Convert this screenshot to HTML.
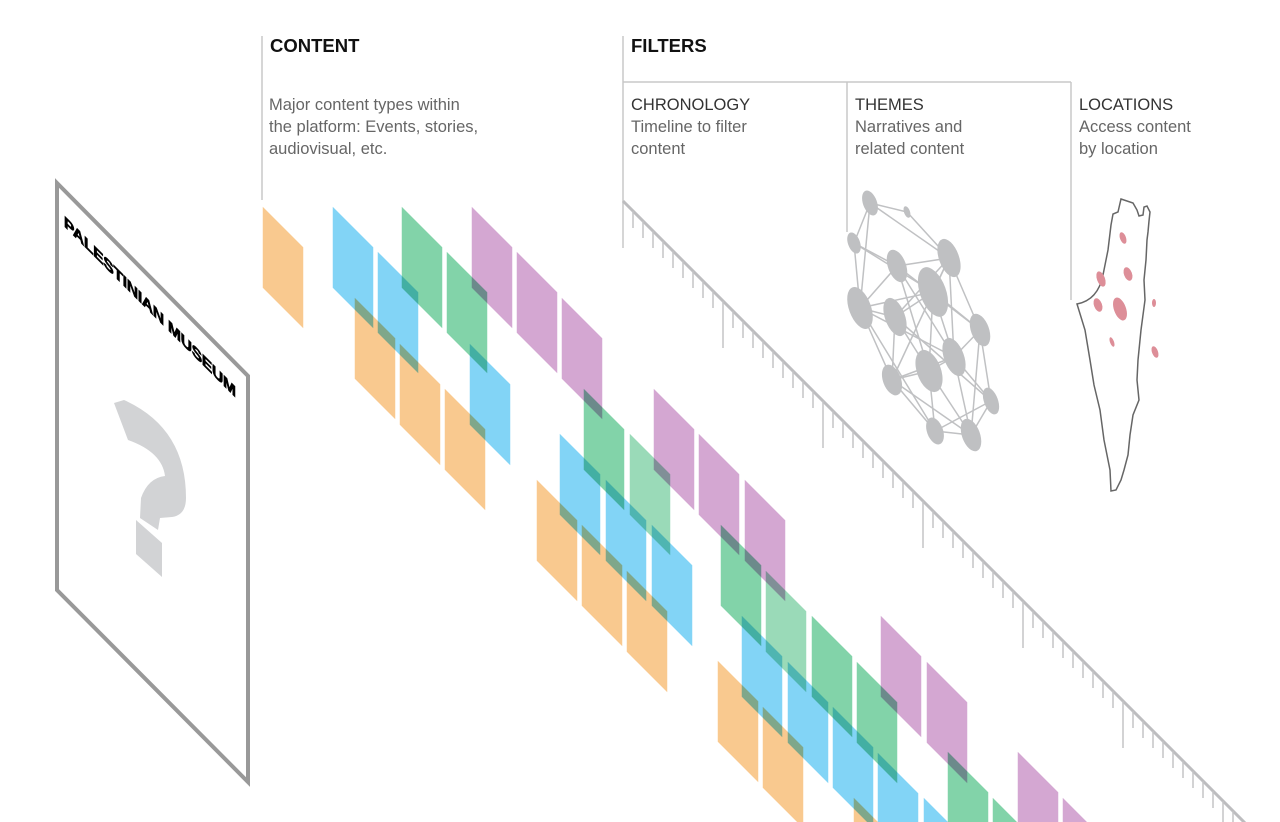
<!DOCTYPE html>
<html><head><meta charset="utf-8"><style>
html,body{margin:0;padding:0;background:#fff;width:1280px;height:822px;overflow:hidden;}
svg{display:block;}
.h{font-family:"Liberation Sans",sans-serif;font-weight:bold;font-size:18.5px;fill:#111;}
.d{font-family:"Liberation Sans",sans-serif;font-size:16.5px;fill:#666;}
.t{font-family:"Liberation Sans",sans-serif;font-size:16.5px;fill:#333;}
.tile{mix-blend-mode:multiply;stroke:#fff;stroke-width:1.5;}
</style></head><body>
<svg width="1280" height="822" viewBox="0 0 1280 822" xmlns="http://www.w3.org/2000/svg">
<defs>
<polygon id="tl" points="0,0 42,42 42,125 0,83"/>
</defs>
<g stroke="#c8c8c8" stroke-width="1.5" fill="none">
<line x1="262" y1="36" x2="262" y2="200"/>
<line x1="623" y1="36" x2="623" y2="248"/>
<line x1="623" y1="82" x2="1071" y2="82"/>
<line x1="847" y1="82" x2="847" y2="232"/>
<line x1="1071" y1="82" x2="1071" y2="300"/>
</g>
<text class="h" x="270" y="52">CONTENT</text>
<text class="h" x="631" y="52">FILTERS</text>
<text class="d" x="269" y="110">Major content types within</text>
<text class="d" x="269" y="132">the platform: Events, stories,</text>
<text class="d" x="269" y="154">audiovisual, etc.</text>
<text class="t" x="631" y="110">CHRONOLOGY</text>
<text class="d" x="631" y="132">Timeline to filter</text>
<text class="d" x="631" y="154">content</text>
<text class="t" x="855" y="110">THEMES</text>
<text class="d" x="855" y="132">Narratives and</text>
<text class="d" x="855" y="154">related content</text>
<text class="t" x="1079" y="110">LOCATIONS</text>
<text class="d" x="1079" y="132">Access content</text>
<text class="d" x="1079" y="154">by location</text>

<polygon points="57,183 248,376 248,782 57,590" fill="none" stroke="#999" stroke-width="4"/>
<g transform="translate(64,226) skewY(45)">
<text x="0" y="0" style="font-family:'Liberation Sans',sans-serif;font-weight:bold;font-size:15.5px;letter-spacing:-0.2px" fill="#000" stroke="#000" stroke-width="0.8">PALESTINIAN MUSEUM</text>
</g>
<path d="M114,403 L124,400 Q186,428 186,498 Q186,515 172,517 L160,518 L158,530 L140,518 L141,498 Q148,478 165,476 Q162,452 128,440 Z" fill="#d2d3d5"/>
<polygon points="136,520 162,543 162,577 136,554" fill="#d2d3d5"/>

<g>
<g fill="#f9c98f">
<use href="#tl" class="tile" x="262" y="205"/>
<use href="#tl" class="tile" x="354" y="296"/><use href="#tl" class="tile" x="399" y="342"/><use href="#tl" class="tile" x="444" y="387"/>
<use href="#tl" class="tile" x="536" y="478"/><use href="#tl" class="tile" x="581" y="523"/><use href="#tl" class="tile" x="626" y="569"/>
<use href="#tl" class="tile" x="717" y="659"/><use href="#tl" class="tile" x="762" y="705"/><use href="#tl" class="tile" x="853" y="796"/>
</g>
<g fill="#82d4f6">
<use href="#tl" class="tile" x="332" y="205"/><use href="#tl" class="tile" x="377" y="250"/>
<use href="#tl" class="tile" x="469" y="342"/>
<use href="#tl" class="tile" x="559" y="432"/><use href="#tl" class="tile" x="605" y="478"/><use href="#tl" class="tile" x="651" y="523"/>
<use href="#tl" class="tile" x="741" y="614"/><use href="#tl" class="tile" x="787" y="660"/><use href="#tl" class="tile" x="832" y="705"/><use href="#tl" class="tile" x="877" y="751"/><use href="#tl" class="tile" x="923" y="796"/>
</g>
<g fill="#82d3a9">
<use href="#tl" class="tile" x="401" y="205"/><use href="#tl" class="tile" x="446" y="250"/>
<use href="#tl" class="tile" x="583" y="387"/>
<use href="#tl" class="tile" x="720" y="523"/><use href="#tl" class="tile" x="811" y="614"/><use href="#tl" class="tile" x="856" y="660"/>
<use href="#tl" class="tile" x="947" y="750"/><use href="#tl" class="tile" x="992" y="796"/>
</g>
<g fill="#9adab8">
<use href="#tl" class="tile" x="629" y="432"/><use href="#tl" class="tile" x="765" y="569"/>
</g>
<g fill="#d4a7d2">
<use href="#tl" class="tile" x="471" y="205"/><use href="#tl" class="tile" x="516" y="250"/><use href="#tl" class="tile" x="561" y="296"/>
<use href="#tl" class="tile" x="653" y="387"/><use href="#tl" class="tile" x="698" y="432"/><use href="#tl" class="tile" x="744" y="478"/>
<use href="#tl" class="tile" x="880" y="614"/><use href="#tl" class="tile" x="926" y="660"/>
<use href="#tl" class="tile" x="1017" y="750"/><use href="#tl" class="tile" x="1062" y="796"/>
</g>
</g>

<line x1="623" y1="201" x2="1246" y2="824" stroke="#bdbdbf" stroke-width="3"/>
<g stroke="#c4c4c6" stroke-width="1.5">
<line x1="633" y1="211" x2="633" y2="228"/><line x1="643" y1="221" x2="643" y2="238"/><line x1="653" y1="231" x2="653" y2="248"/><line x1="663" y1="241" x2="663" y2="258"/><line x1="673" y1="251" x2="673" y2="268"/><line x1="683" y1="261" x2="683" y2="278"/><line x1="693" y1="271" x2="693" y2="288"/><line x1="703" y1="281" x2="703" y2="298"/><line x1="713" y1="291" x2="713" y2="308"/>
<line x1="723" y1="301" x2="723" y2="348"/>
<line x1="733" y1="311" x2="733" y2="328"/><line x1="743" y1="321" x2="743" y2="338"/><line x1="753" y1="331" x2="753" y2="348"/><line x1="763" y1="341" x2="763" y2="358"/><line x1="773" y1="351" x2="773" y2="368"/><line x1="783" y1="361" x2="783" y2="378"/><line x1="793" y1="371" x2="793" y2="388"/><line x1="803" y1="381" x2="803" y2="398"/><line x1="813" y1="391" x2="813" y2="408"/>
<line x1="823" y1="401" x2="823" y2="448"/>
<line x1="833" y1="411" x2="833" y2="428"/><line x1="843" y1="421" x2="843" y2="438"/><line x1="853" y1="431" x2="853" y2="448"/><line x1="863" y1="441" x2="863" y2="458"/><line x1="873" y1="451" x2="873" y2="468"/><line x1="883" y1="461" x2="883" y2="478"/><line x1="893" y1="471" x2="893" y2="488"/><line x1="903" y1="481" x2="903" y2="498"/><line x1="913" y1="491" x2="913" y2="508"/>
<line x1="923" y1="501" x2="923" y2="548"/>
<line x1="933" y1="511" x2="933" y2="528"/><line x1="943" y1="521" x2="943" y2="538"/><line x1="953" y1="531" x2="953" y2="548"/><line x1="963" y1="541" x2="963" y2="558"/><line x1="973" y1="551" x2="973" y2="568"/><line x1="983" y1="561" x2="983" y2="578"/><line x1="993" y1="571" x2="993" y2="588"/><line x1="1003" y1="581" x2="1003" y2="598"/><line x1="1013" y1="591" x2="1013" y2="608"/>
<line x1="1023" y1="601" x2="1023" y2="648"/>
<line x1="1033" y1="611" x2="1033" y2="628"/><line x1="1043" y1="621" x2="1043" y2="638"/><line x1="1053" y1="631" x2="1053" y2="648"/><line x1="1063" y1="641" x2="1063" y2="658"/><line x1="1073" y1="651" x2="1073" y2="668"/><line x1="1083" y1="661" x2="1083" y2="678"/><line x1="1093" y1="671" x2="1093" y2="688"/><line x1="1103" y1="681" x2="1103" y2="698"/><line x1="1113" y1="691" x2="1113" y2="708"/>
<line x1="1123" y1="701" x2="1123" y2="748"/>
<line x1="1133" y1="711" x2="1133" y2="728"/><line x1="1143" y1="721" x2="1143" y2="738"/><line x1="1153" y1="731" x2="1153" y2="748"/><line x1="1163" y1="741" x2="1163" y2="758"/><line x1="1173" y1="751" x2="1173" y2="768"/><line x1="1183" y1="761" x2="1183" y2="778"/><line x1="1193" y1="771" x2="1193" y2="788"/><line x1="1203" y1="781" x2="1203" y2="798"/><line x1="1213" y1="791" x2="1213" y2="808"/>
<line x1="1223" y1="801" x2="1223" y2="822"/><line x1="1233" y1="811" x2="1233" y2="822"/>
</g>

<g stroke="#c0c1c3" stroke-width="1.5">
<line x1="870" y1="203" x2="907" y2="212"/><line x1="870" y1="203" x2="949" y2="258"/><line x1="870" y1="203" x2="854" y2="243"/><line x1="870" y1="203" x2="860" y2="308"/>
<line x1="907" y1="212" x2="949" y2="258"/>
<line x1="854" y1="243" x2="897" y2="266"/><line x1="854" y1="243" x2="933" y2="292"/><line x1="854" y1="243" x2="860" y2="308"/>
<line x1="897" y1="266" x2="949" y2="258"/><line x1="897" y1="266" x2="860" y2="308"/><line x1="897" y1="266" x2="954" y2="357"/><line x1="897" y1="266" x2="929" y2="371"/><line x1="897" y1="266" x2="980" y2="330"/>
<line x1="949" y1="258" x2="933" y2="292"/><line x1="949" y1="258" x2="895" y2="317"/><line x1="949" y1="258" x2="980" y2="330"/><line x1="949" y1="258" x2="954" y2="357"/><line x1="949" y1="258" x2="892" y2="380"/>
<line x1="933" y1="292" x2="895" y2="317"/><line x1="933" y1="292" x2="954" y2="357"/><line x1="933" y1="292" x2="929" y2="371"/><line x1="933" y1="292" x2="860" y2="308"/><line x1="933" y1="292" x2="980" y2="330"/>
<line x1="860" y1="308" x2="895" y2="317"/><line x1="860" y1="308" x2="892" y2="380"/><line x1="860" y1="308" x2="935" y2="431"/><line x1="860" y1="308" x2="954" y2="357"/>
<line x1="895" y1="317" x2="929" y2="371"/><line x1="895" y1="317" x2="892" y2="380"/><line x1="895" y1="317" x2="991" y2="401"/>
<line x1="980" y1="330" x2="954" y2="357"/><line x1="980" y1="330" x2="991" y2="401"/><line x1="980" y1="330" x2="971" y2="435"/>
<line x1="954" y1="357" x2="929" y2="371"/><line x1="954" y1="357" x2="991" y2="401"/><line x1="954" y1="357" x2="971" y2="435"/><line x1="954" y1="357" x2="892" y2="380"/>
<line x1="929" y1="371" x2="892" y2="380"/><line x1="929" y1="371" x2="935" y2="431"/><line x1="929" y1="371" x2="971" y2="435"/>
<line x1="892" y1="380" x2="935" y2="431"/><line x1="892" y1="380" x2="971" y2="435"/>
<line x1="991" y1="401" x2="971" y2="435"/><line x1="935" y1="431" x2="971" y2="435"/><line x1="935" y1="431" x2="991" y2="401"/>
</g>
<g fill="#bfc0c2">
<ellipse cx="870" cy="203" rx="7" ry="13" transform="rotate(-20 870 203)"/>
<ellipse cx="907" cy="212" rx="3" ry="6" transform="rotate(-20 907 212)"/>
<ellipse cx="854" cy="243" rx="6" ry="11" transform="rotate(-20 854 243)"/>
<ellipse cx="897" cy="266" rx="9" ry="17" transform="rotate(-20 897 266)"/>
<ellipse cx="949" cy="258" rx="10" ry="20" transform="rotate(-20 949 258)"/>
<ellipse cx="933" cy="292" rx="13" ry="26" transform="rotate(-20 933 292)"/>
<ellipse cx="860" cy="308" rx="11" ry="22" transform="rotate(-20 860 308)"/>
<ellipse cx="895" cy="317" rx="10" ry="20" transform="rotate(-20 895 317)"/>
<ellipse cx="980" cy="330" rx="9" ry="17" transform="rotate(-20 980 330)"/>
<ellipse cx="954" cy="357" rx="10" ry="20" transform="rotate(-20 954 357)"/>
<ellipse cx="929" cy="371" rx="12" ry="22" transform="rotate(-20 929 371)"/>
<ellipse cx="892" cy="380" rx="9" ry="16" transform="rotate(-20 892 380)"/>
<ellipse cx="991" cy="401" rx="7" ry="14" transform="rotate(-20 991 401)"/>
<ellipse cx="935" cy="431" rx="8" ry="14" transform="rotate(-20 935 431)"/>
<ellipse cx="971" cy="435" rx="9" ry="17" transform="rotate(-20 971 435)"/>
</g>

<path d="M1121,199 L1133,203 L1137,210 L1139,216 L1143,215 L1144,207 L1147,206 L1150,212 L1149,221 L1148,232 L1147,240 L1146,260 L1144,280 L1145,300 L1141,330 L1138,360 L1137,380 L1139,400 L1133,415 L1130,435 L1128,455 L1124,470 L1121,480 L1116,490 L1111,491 L1110,470 L1104,440 L1100,410 L1094,385 L1090,360 L1085,330 L1077,304 Q1098,300 1103,275 L1108,250 L1111,225 L1113,214 L1118,212 Z" fill="none" stroke="#666" stroke-width="1.5"/>
<g fill="#dd8e98">
<ellipse cx="1123" cy="238" rx="3" ry="6" transform="rotate(-20 1123 238)"/>
<ellipse cx="1128" cy="274" rx="4" ry="7" transform="rotate(-20 1128 274)"/>
<ellipse cx="1101" cy="279" rx="4" ry="8" transform="rotate(-20 1101 279)"/>
<ellipse cx="1098" cy="305" rx="4" ry="7" transform="rotate(-20 1098 305)"/>
<ellipse cx="1120" cy="309" rx="6" ry="12" transform="rotate(-20 1120 309)"/>
<ellipse cx="1154" cy="303" rx="2" ry="4"/>
<ellipse cx="1112" cy="342" rx="2" ry="5" transform="rotate(-20 1112 342)"/>
<ellipse cx="1155" cy="352" rx="3" ry="6" transform="rotate(-20 1155 352)"/>
</g>
</svg>
</body></html>
